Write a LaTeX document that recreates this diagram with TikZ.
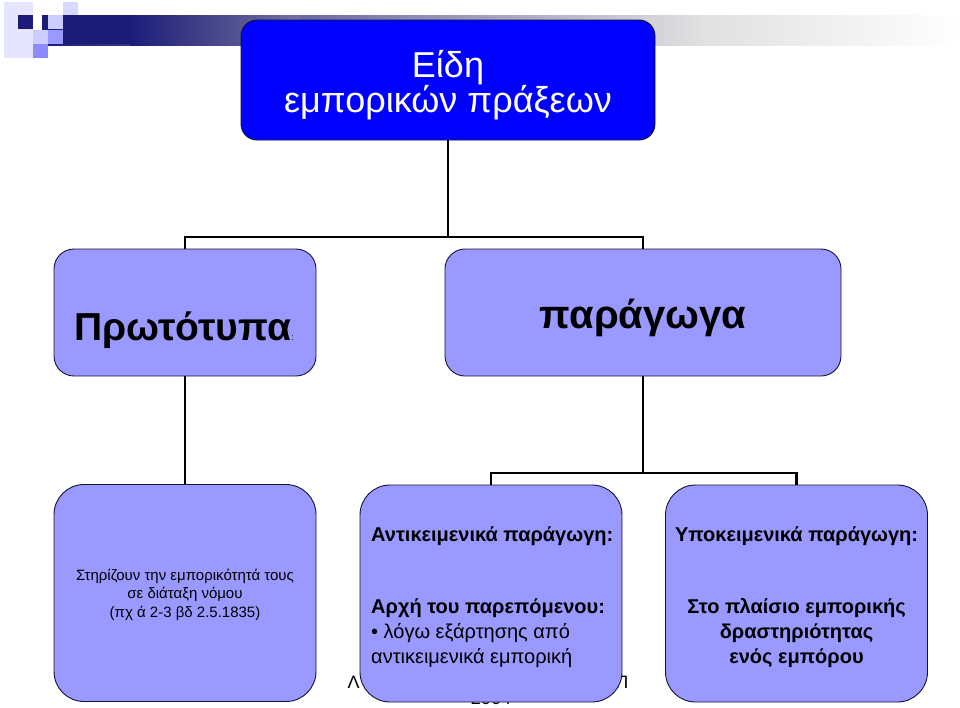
\documentclass[tikz,border=0pt]{standalone}
\usepackage{fontspec}
\setmainfont{Liberation Sans}
\definecolor{topblue}{RGB}{0,0,255}
\definecolor{boxfill}{RGB}{153,153,255}
\definecolor{navy}{RGB}{28,28,120}
\definecolor{edge}{RGB}{20,20,50}
\begin{document}
\begin{tikzpicture}[x=1pt,y=-1pt,
  topbox/.style={draw=edge,line width=0.9pt,fill=topblue,rounded corners=16pt,minimum width=414pt,minimum height=120pt,inner sep=0pt},
  midbox/.style={draw=edge,line width=0.9pt,fill=boxfill,rounded corners=20pt,minimum height=127pt,inner sep=0pt},
  lowbox/.style={draw=edge,line width=0.9pt,fill=boxfill,rounded corners=30pt,minimum width=262pt,minimum height=217pt,inner sep=0pt},
  link/.style={line width=2.5pt,black},
  sq/.style={draw=none,inner sep=0pt,minimum width=15pt,minimum height=14pt,anchor=north west}
]
\useasboundingbox (0,0) rectangle (960,707);
% header decoration
\shade[left color=black!12,right color=white] (700,15) rectangle (960,45);
\shade[left color=navy,right color=black!12] (42,15) rectangle (700,45);
\fill[blue!10!white] (4,2) rectangle (33,58);
\node[sq,fill=navy] (s1) at (18,15) {};
\node[sq,fill=blue!20!white] (s2) at (48,15) {};
\node[sq,fill=blue!15!white] (s3) at (63,2) {};
\node[sq,fill=blue!40!white] (s4) at (63,15) {};
\node[sq,fill=blue!20!white] (s5) at (33,30) {};
\node[sq,fill=blue!40!white] (s6) at (48,30) {};
\node[sq,fill=blue!45!white] (s7) at (33,44) {};
\fill[navy] (63,15) rectangle (130,44);
\shade[left color=navy,right color=navy!80!black!60] (130,15) rectangle (300,45);

% footer (mostly hidden)
\node[font=\fontsize{18}{22}\selectfont,anchor=west] (fl) at (344,682) {Λ};
\node[font=\fontsize{18}{22}\selectfont,anchor=east] (fr) at (632,682) {Π};
\node[font=\fontsize{18}{22}\selectfont,inner sep=0pt] (fy) at (491,698) {2004};

% boxes
\node[topbox] (top) at (448,80) {};
\node[font=\fontsize{36}{35}\selectfont,text=white,align=center,anchor=base,inner sep=0pt] (toptext) at (448,112) {Είδη\\εμπορικών πράξεων};

\node[midbox,minimum width=262pt] (proto) at (185,312.5) {};
\node[font=\bfseries\fontsize{39}{44}\selectfont,anchor=base west,inner sep=0pt] (prototext) at (74,340) {Πρωτότυπα\fontsize{9}{9}\selectfont\mdseries :};

\node[midbox,minimum width=396pt] (parag) at (643,312.5) {};
\node[font=\bfseries\fontsize{40}{44}\selectfont,anchor=base,inner sep=0pt] (paragtext) at (643,328) {παράγωγα};

\node[lowbox] (left) at (185,593) {};
\node[font=\fontsize{15}{17}\selectfont,align=center,inner sep=0pt,anchor=base] (lefttext) at (185,617) {Στηρίζουν την εμπορικότητά τους\\[1.5pt]σε διάταξη νόμου\\[1.5pt](πχ ά 2-3 βδ 2.5.1835)};

\node[lowbox] (obj) at (491,593.5) {};
\node[font=\bfseries\fontsize{20}{24}\selectfont,anchor=base west,inner sep=0pt] (objt1) at (371,541) {Αντικειμενικά παράγωγη:};
\node[font=\fontsize{20}{25}\selectfont,anchor=base west,inner sep=0pt,align=left] (objt2) at (371,663) {\textbf{Αρχή του παρεπόμενου:}\\• λόγω εξάρτησης από\\αντικειμενικά εμπορική};

\node[lowbox] (subj) at (796.5,593.5) {};
\node[font=\bfseries\fontsize{20}{24}\selectfont,anchor=base,inner sep=0pt] (subjt1) at (796.5,541) {Υποκειμενικά παράγωγη:};
\node[font=\bfseries\fontsize{20}{25}\selectfont,anchor=base,inner sep=0pt,align=center] (subjt2) at (796.5,663) {Στο πλαίσιο εμπορικής\\δραστηριότητας\\ενός εμπόρου};

% connectors
\coordinate (j1) at (448,237);
\coordinate (j2) at (643,473);
\draw[link] (top.south) -- (j1);
\draw[link] (proto.north) |- (j1) -| (parag.north);
\draw[link] (proto.south) -- (left.north);
\draw[link] (parag.south) -- (j2);
\draw[link] (obj.north) |- (j2) -| (subj.north);
\end{tikzpicture}
\end{document}
